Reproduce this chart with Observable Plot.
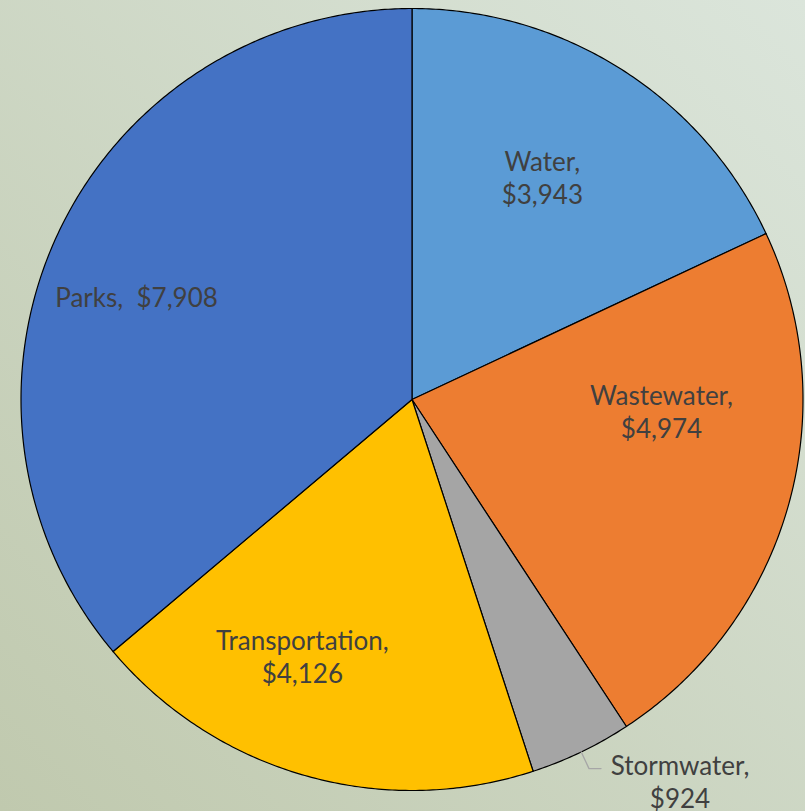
<!DOCTYPE html>
<html><head><meta charset="utf-8">
<script src="https://cdn.jsdelivr.net/npm/d3@7"></script>
<script src="https://cdn.jsdelivr.net/npm/@observablehq/plot@0.6"></script>
<style>
html,body{margin:0;padding:0;}
body{width:805px;height:811px;overflow:hidden;background:linear-gradient(45deg,#c0c9ae 0%,#dbe5db 100%);}
</style></head><body><div id="chart"></div>
<script>
// ---- data ----
const categories = ["Water", "Wastewater", "Stormwater", "Transportation", "Parks"];
const values = [3943, 4974, 924, 4126, 7908];
const colors = ["#5B9BD5", "#ED7D31", "#A5A5A5", "#FFC000", "#4472C4"];

// ---- layout (pixel nudges of labels from slice centroid at 0.65 r) ----
const R = 391;
const labelNudge = {
  Water: [-6, -8],
  Wastewater: [5, -58],
  Stormwater: [158, 152],
  Transportation: [-40, 12],
  Parks: [-45, 4]
};
const fmt = d3.format("$,");

const total = d3.sum(values);
let acc = 0;
const slices = categories.map((name, i) => {
  const a0 = acc / total * 2 * Math.PI;
  acc += values[i];
  const a1 = acc / total * 2 * Math.PI;
  return {name, value: values[i], a0, a1, mid: (a0 + a1) / 2};
});

// wedge outlines in unit coordinates (angle clockwise from 12 o'clock)
const wedgePts = [];
for (const s of slices) {
  wedgePts.push({name: s.name, x: 0, y: 0});
  const n = Math.max(2, Math.ceil((s.a1 - s.a0) / (Math.PI / 360)));
  for (let k = 0; k <= n; k++) {
    const a = s.a0 + (s.a1 - s.a0) * k / n;
    wedgePts.push({name: s.name, x: Math.sin(a), y: Math.cos(a)});
  }
  wedgePts.push({name: s.name, x: 0, y: 0});
}

const labels = slices.map(s => {
  const [dx, dy] = labelNudge[s.name];
  const text = s.name === "Parks" ? `${s.name},\u00a0 ${fmt(s.value)}` : `${s.name},\n${fmt(s.value)}`;
  return {
    name: s.name,
    text,
    x: 0.65 * Math.sin(s.mid) + dx / R,
    y: 0.65 * Math.cos(s.mid) - dy / R
  };
});

const storm = slices.find(s => s.name === "Stormwater");
const stormLabel = labels.find(l => l.name === "Stormwater");
const leader = [
  {x: Math.sin(storm.mid), y: Math.cos(storm.mid)},
  {x: stormLabel.x - 91 / R, y: stormLabel.y + 12 / R},
  {x: stormLabel.x - 79 / R, y: stormLabel.y + 12 / R}
];

const chart = Plot.plot({
  width: 805,
  height: 811,
  marginLeft: 20.5,
  marginRight: 2.5,
  marginTop: 8,
  marginBottom: 21,
  x: {domain: [-1, 1], axis: null},
  y: {domain: [-1, 1], axis: null},
  color: {type: "ordinal", domain: categories, range: colors},
  style: {background: "transparent", overflow: "visible"},
  marks: [
    Plot.line(wedgePts, {x: "x", y: "y", z: "name", fill: "name", stroke: "black", strokeWidth: 1.2, strokeLinejoin: "round"}),
    Plot.line(leader, {x: "x", y: "y", stroke: "#a6a6a6", strokeWidth: 1.3}),
    Plot.text(labels, {x: "x", y: "y", text: "text", fill: "#404040", fontSize: 26, fontFamily: "Lato", lineHeight: 1.27})
  ]
});
document.getElementById("chart").appendChild(chart);
</script>
</body></html>
